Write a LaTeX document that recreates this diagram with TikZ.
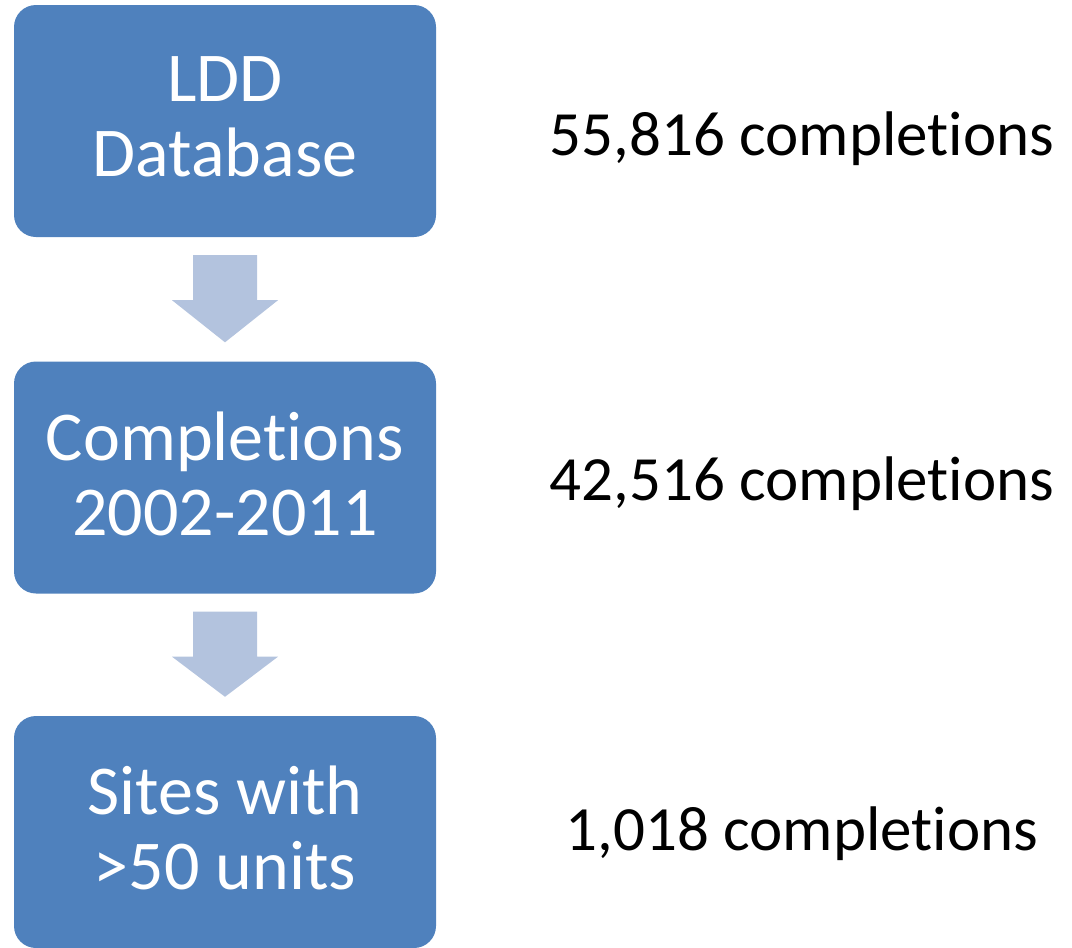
\documentclass[tikz,border=0pt]{standalone}
\usepackage{fontspec}
\setmainfont[Ligatures={NoCommon}]{Carlito}
\usetikzlibrary{calc}
\definecolor{boxblue}{RGB}{79,129,189}
\definecolor{arrowblue}{RGB}{179,195,222}
\tikzset{
  x=1pt, y=-1pt,
  stagebox/.style={fill=boxblue, draw=none, rounded corners=22pt,
    minimum width=422pt, minimum height=232pt, inner sep=0pt},
  stagetext/.style={text=white, align=center, inner sep=0pt,
    font=\fontsize{70}{75}\selectfont},
  countlabel/.style={anchor=base, text=black, font=\fontsize{63}{75}\selectfont, inner sep=0pt},
  blockarrow/.style={fill=arrowblue, draw=none}
}
\newcommand{\downarrowblock}[2]{%
  % shaft 64 wide, head 106 wide, drawn from (#1) down to (#2)
  \fill[blockarrow]
    ($(#1)+(-32,18)$) -- ($(#1)+(32,18)$) -- ($(#1)+(32,63)$) --
    ($(#1)+(53,63)$) -- ($(#2)+(0,-19)$) -- ($(#1)+(-53,63)$) --
    ($(#1)+(-32,63)$) -- cycle;}
\begin{document}
\begin{tikzpicture}
\useasboundingbox (0,0) rectangle (1072,948);
\node[stagebox] (b1) at (225,121) {};
\node[stagebox] (b2) at (225,477.5) {};
\node[stagebox] (b3) at (225,832) {};
\node[stagetext] (t1) at ($(b1.center)+(0,-4)$) {LDD\\Database};
\node[stagetext] (t2) at ($(b2.center)+(0,-4)$) {Completions\\2002-2011};
\node[stagetext] (t3) at ($(b3.center)+(0,-4)$) {Sites with\\>50 units};
\downarrowblock{b1.south}{b2.north}
\downarrowblock{b2.south}{b3.north}
\node[countlabel] (c1) at (802,155) {55,816 completions};
\node[countlabel] (c2) at (802,500) {42,516 completions};
\node[countlabel] (c3) at (802,850) {1,018 completions};
\end{tikzpicture}
\end{document}
